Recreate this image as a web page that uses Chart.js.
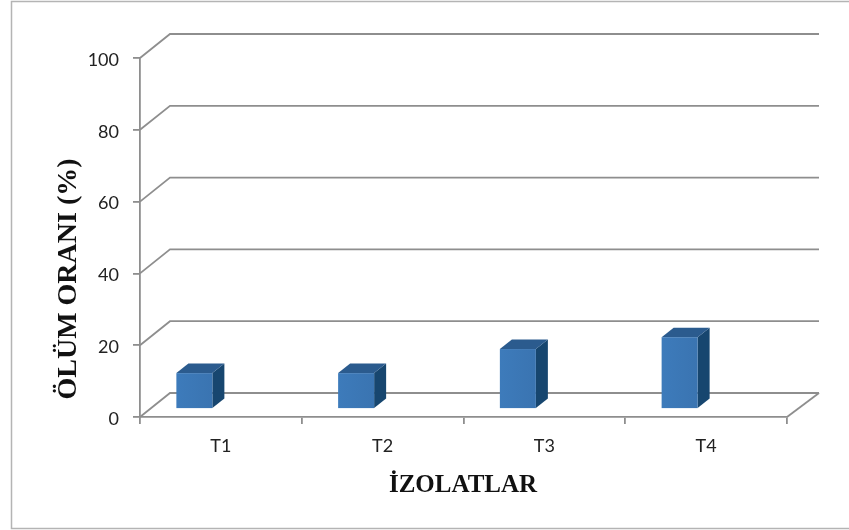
<!DOCTYPE html>
<html>
<head>
<meta charset="utf-8">
<title>Ölüm oranı</title>
<script src="https://cdn.jsdelivr.net/npm/chart.js@4.4.1/dist/chart.umd.min.js"></script>
<style>
  body { margin: 0; background: #fff; }
  canvas { display: block; }
</style>
</head>
<body>
<canvas id="olum" width="849" height="530"></canvas>
<script>
// data
const izolatlar = ["T1", "T2", "T3", "T4"];
const olumOrani = [10, 10, 16.7, 20];
const yTicks = [0, 20, 40, 60, 80, 100];

const gridColor = "#8e8e8e";
// 3D offsets: back wall vs front, bar depth
const wallDx = 30, wallDy = -24;
const barShiftX = -26.5, barShiftY = -8;
const barDx = 12, barDy = -9.5;

// outer frame
const framePlugin = {
  id: "frame",
  beforeDraw(chart) {
    const ctx = chart.ctx;
    ctx.save();
    ctx.fillStyle = "#fff";
    ctx.fillRect(0, 0, chart.width, chart.height);
    ctx.strokeStyle = "#b4b4b4";
    ctx.lineWidth = 1.5;
    ctx.strokeRect(11.5, 1.5, 900, 527);
    ctx.restore();
  },
};

// back wall grid lines, diagonals and floor edge
const wallPlugin = {
  id: "wall",
  beforeDatasetsDraw(chart) {
    const ctx = chart.ctx;
    const y = chart.scales.y;
    const a = chart.chartArea;
    ctx.save();
    ctx.strokeStyle = gridColor;
    ctx.lineWidth = 1.8;
    yTicks.forEach((v) => {
      const py = y.getPixelForValue(v);
      ctx.beginPath();
      ctx.moveTo(a.left, py);
      ctx.lineTo(a.left + wallDx, py + wallDy);
      ctx.lineTo(a.right + wallDx + 2, py + wallDy);
      ctx.stroke();
    });
    // floor right edge
    const p0 = y.getPixelForValue(0);
    ctx.beginPath();
    ctx.moveTo(a.right, p0);
    ctx.lineTo(a.right + wallDx + 2, p0 + wallDy);
    ctx.stroke();
    ctx.restore();
  },
};

// draw bars as boxes from the bar elements
const boxPlugin = {
  id: "box",
  afterDatasetsDraw(chart) {
    const ctx = chart.ctx;
    const meta = chart.getDatasetMeta(0);
    ctx.save();
    meta.data.forEach((bar) => {
      const w = bar.width;
      const x0 = bar.x - w / 2 + barShiftX;
      const x1 = x0 + w;
      const top = bar.y + barShiftY;
      const bot = bar.base + barShiftY;
      // side
      ctx.fillStyle = "#17466f";
      ctx.beginPath();
      ctx.moveTo(x1, top);
      ctx.lineTo(x1 + barDx, top + barDy);
      ctx.lineTo(x1 + barDx, bot + barDy);
      ctx.lineTo(x1, bot);
      ctx.closePath();
      ctx.fill();
      // top
      ctx.fillStyle = "#2b5b8e";
      ctx.beginPath();
      ctx.moveTo(x0, top);
      ctx.lineTo(x0 + barDx, top + barDy);
      ctx.lineTo(x1 + barDx, top + barDy);
      ctx.lineTo(x1, top);
      ctx.closePath();
      ctx.fill();
      // front
      const g = ctx.createLinearGradient(x0, 0, x1, 0);
      g.addColorStop(0, "#3d7bbb");
      g.addColorStop(1, "#3a74b1");
      ctx.fillStyle = g;
      ctx.fillRect(x0, top, w, bot - top);
    });
    ctx.restore();
  },
};

// axis titles
const titlePlugin = {
  id: "titles",
  afterDraw(chart) {
    const ctx = chart.ctx;
    ctx.save();
    ctx.fillStyle = "#111";
    ctx.textAlign = "center";
    ctx.textBaseline = "alphabetic";
    ctx.font = "bold 25px 'Liberation Serif', 'Times New Roman', serif";
    ctx.fillText("İZOLATLAR", 463, 492);
    ctx.translate(76, 279);
    ctx.rotate(-Math.PI / 2);
    ctx.font = "bold 28px 'Liberation Serif', 'Times New Roman', serif";
    ctx.fillText("ÖLÜM ORANI (%)", 0, 0);
    ctx.restore();
  },
};

const ctx = document.getElementById("olum").getContext("2d");
const olum = new Chart(ctx, {
  type: "bar",
  data: {
    labels: izolatlar,
    datasets: [
      {
        label: "Ölüm oranı",
        data: olumOrani,
        backgroundColor: "rgba(0,0,0,0)",
        categoryPercentage: 1,
        barPercentage: 0.2226,
      },
    ],
  },
  options: {
    responsive: false,
    devicePixelRatio: 1,
    animation: false,
    layout: { padding: { left: 0, top: 58, right: 62, bottom: 0 } },
    plugins: {
      legend: { display: false },
      tooltip: { enabled: false },
    },
    scales: {
      x: {
        grid: {
          drawOnChartArea: false,
          drawTicks: true,
          tickLength: 7,
          color: gridColor,
          lineWidth: 1.8,
        },
        border: { color: gridColor, width: 1.8 },
        ticks: {
          color: "#222",
          font: { family: "Lato, 'Liberation Sans', sans-serif", size: 18 },
          padding: 11,
        },
        afterFit(s) {
          s.height = 113;
        },
      },
      y: {
        min: 0,
        max: 100,
        afterBuildTicks(s) {
          s.ticks = yTicks.map((v) => ({ value: v }));
        },
        grid: {
          drawOnChartArea: false,
          drawTicks: true,
          tickLength: 7,
          color: gridColor,
          lineWidth: 1.8,
        },
        border: { color: gridColor, width: 1.8 },
        ticks: {
          color: "#222",
          font: { family: "Lato, 'Liberation Sans', sans-serif", size: 18 },
          padding: 14,
          labelOffset: 2,
        },
        afterFit(s) {
          s.width = 140;
        },
      },
    },
  },
  plugins: [framePlugin, wallPlugin, boxPlugin, titlePlugin],
});
</script>
</body>
</html>
